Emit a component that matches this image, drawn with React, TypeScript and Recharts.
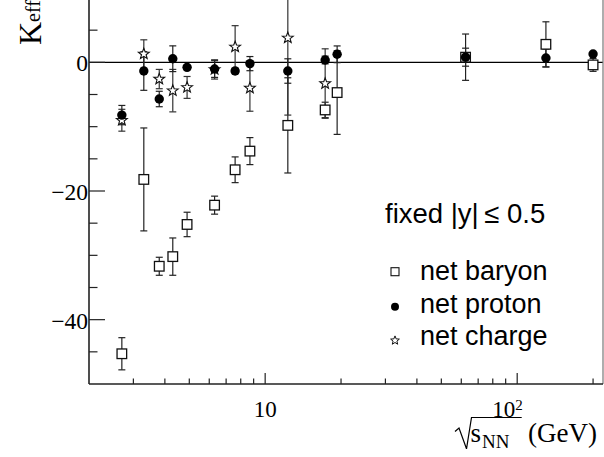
import React from 'react';
import { ScatterChart, Scatter, XAxis, YAxis, ErrorBar, ReferenceLine, Label } from 'recharts';

const energies = [2.7, 3.3, 3.8, 4.3, 4.9, 6.3, 7.6, 8.7, 12.3, 17.3, 19.3, 62.4, 130, 200];
const netBaryon = [-45.3, -18.2, -31.7, -30.2, -25.2, -22.2, -16.7, -13.8, -9.8, -7.4, -4.7, 0.8, 2.8, -0.4];
const netBaryonErr = [2.5, 8.0, 1.4, 2.9, 1.9, 1.4, 2.0, 2.1, 7.4, 1.2, 6.5, 3.6, 3.5, 1.0];
const netProton = [-8.2, -1.35, -5.7, 0.56, -0.78, -1.04, -1.35, -0.2, -1.35, 0.36, 1.25, 0.8, 0.67, 1.3];
const netProtonErr = [1.5, 3.0, 1.2, 2.0, 0.3, 1.3, 0.4, 1.1, 1.9, 0.6, 1.3, 1.4, 1.4, 0];
const chargeEnergies = [2.7, 3.3, 3.8, 4.3, 4.9, 6.3, 7.6, 8.7, 12.3, 17.3];
const netCharge = [-9.0, 1.3, -2.6, -4.4, -3.9, -1.1, 2.4, -4.0, 3.8, -3.3];
const netChargeErr = [1.7, 2.2, 1.5, 3.3, 1.7, 1.5, 3.3, 3.6, 12.0, 5.4];

const seriesNames = ['net baryon', 'net proton', 'net charge'];
const legendTitle = 'fixed |y|\u2009\u2264 0.5';

const xTicks = [3, 4, 5, 6, 7, 8, 9, 10, 20, 30, 40, 50, 60, 70, 80, 90, 100, 200];
const xLabelTicks = [10, 100];
const xLabelBase = ['10', '10'];
const xLabelExp = ['', '2'];
const yTicks = [-45, -40, -35, -30, -25, -20, -15, -10, -5, 0, 5, 10];
const yLabelTicks = [0, -20, -40];

const XDOMAIN: [number, number] = [2, 219];
const YDOMAIN: [number, number] = [-50, 10];

const SERIF = '"Liberation Serif", "Times New Roman", serif';
const SANS = '"Liberation Sans", Arial, sans-serif';

const baryonData = energies.map((e, i) => ({ x: e, y: netBaryon[i], err: netBaryonErr[i] }));
const protonData = energies.map((e, i) => ({ x: e, y: netProton[i], err: netProtonErr[i] }));
const chargeData = chargeEnergies.map((e, i) => ({ x: e, y: netCharge[i], err: netChargeErr[i] }));

const starPoints = (cx: number, cy: number, ro: number, ri: number) => {
  const pts: string[] = [];
  for (let k = 0; k < 10; k++) {
    const r = k % 2 === 0 ? ro : ri;
    const a = -Math.PI / 2 + (k * Math.PI) / 5;
    pts.push(`${cx + r * Math.cos(a)},${cy + r * Math.sin(a)}`);
  }
  return pts.join(' ');
};

const SquareShape = (p: any) => (
  <rect x={p.cx - 4.8} y={p.cy - 4.8} width={9.6} height={9.6} fill="#fff" stroke="#111" strokeWidth={1.3} />
);
const CircleShape = (p: any) => <circle cx={p.cx} cy={p.cy} r={4.7} fill="#000" />;
const StarShape = (p: any) => (
  <polygon points={starPoints(p.cx, p.cy, 5.7, 2.4)} fill="#fff" stroke="#111" strokeWidth={1.1} />
);

const XTick = (p: any) => {
  const { x, y, payload } = p;
  const v = payload.value;
  const idx = xLabelTicks.indexOf(v);
  const major = idx >= 0;
  return (
    <g>
      <line x1={x} x2={x} y1={y} y2={y - (major ? 11 : 5.5)} stroke="#222" strokeWidth={1.2} />
      {major && xLabelExp[idx] === '' && (
        <text x={x} y={y + 33.3} textAnchor="middle" fontFamily={SERIF} fontSize={23} fill="#000">
          {xLabelBase[idx]}
        </text>
      )}
      {major && xLabelExp[idx] !== '' && (
        <g>
          <text x={x - 2} y={y + 32.5} textAnchor="end" fontFamily={SERIF} fontSize={23} fill="#000">
            {xLabelBase[idx]}
          </text>
          <text x={x - 2} y={y + 25.5} textAnchor="start" fontFamily={SERIF} fontSize={15} fill="#000">
            {xLabelExp[idx]}
          </text>
        </g>
      )}
    </g>
  );
};

const YTick = (p: any) => {
  const { x, y, payload } = p;
  const v = payload.value;
  const major = yLabelTicks.includes(v);
  return (
    <g>
      <line x1={x} x2={x + (major ? 16 : 8.5)} y1={y} y2={y} stroke="#222" strokeWidth={1.2} />
      {major && (
        <text x={x - 1} y={y + 9} textAnchor="end" fontFamily={SERIF} fontSize={23.5} fill="#000">
          {v < 0 ? '\u2212' + Math.abs(v) : String(v)}
        </text>
      )}
    </g>
  );
};

const XTitle = (p: any) => {
  const vb = p.viewBox || {};
  const R = vb.x + vb.width;
  const A = vb.y;
  const path = `M${R - 148},${A + 47.5} L${R - 144},${A + 44} L${R - 136.5},${A + 64.8} L${R - 131.5},${A + 33.5} L${R - 81.3},${A + 33.5}`;
  return (
    <g>
      <path d={path} fill="none" stroke="#000" strokeWidth={1.2} />
      <text x={R - 132.5} y={A + 58} fontFamily={SERIF} fontSize={27} fill="#000">s</text>
      <text x={R - 121} y={A + 63.6} fontFamily={SERIF} fontSize={19} fill="#000">NN</text>
      <text x={R - 75} y={A + 58} fontFamily={SERIF} fontSize={27} fill="#000">(GeV)</text>
    </g>
  );
};

const YTitle = () => (
  <text transform="rotate(-90, 41, 55)" x={41} y={55} fontFamily={SERIF} fill="#000">
    <tspan fontSize={32}>K</tspan>
    <tspan fontSize={20} dy={-1}>eff</tspan>
  </text>
);

const LegendOverlay = () => (
  <svg width={604} height={457} style={{ position: 'absolute', left: 0, top: 0, pointerEvents: 'none' }}>
    <text x={385} y={223} fontFamily={SANS} fontSize={27.5} fill="#000">{legendTitle}</text>
    <rect x={391} y={267.7} width={8} height={8} fill="#fff" stroke="#111" strokeWidth={1.1} />
    <text x={420} y={280} fontFamily={SANS} fontSize={27} fill="#000">{seriesNames[0]}</text>
    <circle cx={395} cy={306.7} r={4} fill="#000" />
    <text x={420} y={313} fontFamily={SANS} fontSize={27} fill="#000">{seriesNames[1]}</text>
    <polygon points={starPoints(395, 340.5, 4.6, 2)} fill="#fff" stroke="#111" strokeWidth={1} />
    <text x={420} y={345} fontFamily={SANS} fontSize={27} fill="#000">{seriesNames[2]}</text>
  </svg>
);

export default function App() {
  return (
    <div style={{ position: 'absolute', left: 0, top: 0, width: 604, height: 457, overflow: 'hidden', background: '#fff' }}>
      <div style={{ position: 'absolute', left: 0, top: -10 }}>
        <ScatterChart width={604} height={467} margin={{ top: 8, right: 1, bottom: 43, left: 59 }}>
          <XAxis
            dataKey="x"
            type="number"
            scale="log"
            domain={XDOMAIN}
            allowDataOverflow
            ticks={xTicks}
            interval={0}
            tick={(p: any) => <XTick {...p} />}
            tickLine={false}
            tickSize={0}
            tickMargin={0}
            height={30}
            axisLine={{ stroke: '#222', strokeWidth: 1.6 }}
          >
            <Label content={(p: any) => <XTitle {...p} />} />
          </XAxis>
          <YAxis
            dataKey="y"
            type="number"
            domain={YDOMAIN}
            allowDataOverflow
            ticks={yTicks}
            interval={0}
            tick={(p: any) => <YTick {...p} />}
            tickLine={false}
            tickSize={0}
            tickMargin={0}
            width={30}
            axisLine={{ stroke: '#222', strokeWidth: 1.6 }}
          >
            <Label content={() => <YTitle />} />
          </YAxis>
          <ReferenceLine y={0} stroke="#000" strokeWidth={1.2} />
          <ReferenceLine x={XDOMAIN[1]} stroke="#777" strokeWidth={1.2} />
          <Scatter name={seriesNames[0]} data={baryonData} shape={SquareShape} isAnimationActive={false}>
            <ErrorBar dataKey="err" direction="y" width={3.5} stroke="#222" strokeWidth={1.2} isAnimationActive={false} />
          </Scatter>
          <Scatter name={seriesNames[2]} data={chargeData} shape={StarShape} isAnimationActive={false}>
            <ErrorBar dataKey="err" direction="y" width={3.5} stroke="#333" strokeWidth={1.2} isAnimationActive={false} />
          </Scatter>
          <Scatter name={seriesNames[1]} data={protonData} shape={CircleShape} isAnimationActive={false}>
            <ErrorBar dataKey="err" direction="y" width={3.5} stroke="#222" strokeWidth={1.2} isAnimationActive={false} />
          </Scatter>
        </ScatterChart>
      </div>
      <LegendOverlay />
    </div>
  );
}
